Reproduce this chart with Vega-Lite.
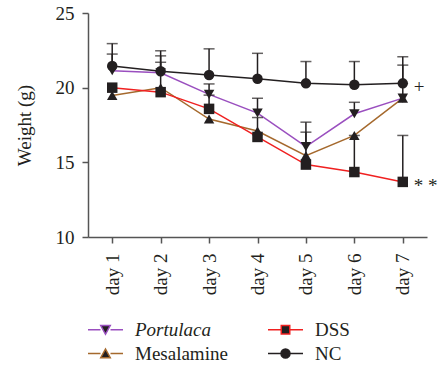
{
  "$schema": "https://vega.github.io/schema/vega-lite/v6.json",
  "width": 339,
  "height": 224,
  "autosize": "none",
  "padding": {"left": 88, "top": 13, "right": 12, "bottom": 135},
  "background": "white",
  "config": {
    "view": {"stroke": null},
    "font": "Liberation Serif",
    "axis": {"labelFont": "Liberation Serif", "titleFont": "Liberation Serif", "labelColor": "#231f20", "titleColor": "#231f20", "domainColor": "#555555", "tickColor": "#555555", "domainWidth": 1.5, "tickWidth": 1.5, "grid": false}
  },
  "datasets": {
    "main": [
      {"day": "day 1", "group": "NC", "weight": 21.45, "upper": 22.95},
      {"day": "day 2", "group": "NC", "weight": 21.1, "upper": 22.47},
      {"day": "day 3", "group": "NC", "weight": 20.85, "upper": 22.6},
      {"day": "day 4", "group": "NC", "weight": 20.6, "upper": 22.3},
      {"day": "day 5", "group": "NC", "weight": 20.29, "upper": 21.75},
      {"day": "day 6", "group": "NC", "weight": 20.2, "upper": 21.75},
      {"day": "day 7", "group": "NC", "weight": 20.29, "upper": 22.07},
      {"day": "day 1", "group": "Portulaca", "weight": 21.13, "upper": 22.25},
      {"day": "day 2", "group": "Portulaca", "weight": 21.0, "upper": 22.13},
      {"day": "day 3", "group": "Portulaca", "weight": 19.55, "upper": 20.25},
      {"day": "day 4", "group": "Portulaca", "weight": 18.3, "upper": 19.29},
      {"day": "day 5", "group": "Portulaca", "weight": 16.05, "upper": 17.69},
      {"day": "day 6", "group": "Portulaca", "weight": 18.25, "upper": 19.02},
      {"day": "day 7", "group": "Portulaca", "weight": 19.3, "upper": 21.51},
      {"day": "day 1", "group": "Mesalamine", "weight": 19.47, "upper": null},
      {"day": "day 2", "group": "Mesalamine", "weight": 20.0, "upper": 21.7},
      {"day": "day 3", "group": "Mesalamine", "weight": 17.9, "upper": null},
      {"day": "day 4", "group": "Mesalamine", "weight": 17.1, "upper": null},
      {"day": "day 5", "group": "Mesalamine", "weight": 15.45, "upper": 17.02},
      {"day": "day 6", "group": "Mesalamine", "weight": 16.8, "upper": null},
      {"day": "day 7", "group": "Mesalamine", "weight": 19.3, "upper": null},
      {"day": "day 1", "group": "DSS", "weight": 20.0, "upper": null},
      {"day": "day 2", "group": "DSS", "weight": 19.7, "upper": null},
      {"day": "day 3", "group": "DSS", "weight": 18.58, "upper": 19.5},
      {"day": "day 4", "group": "DSS", "weight": 16.7, "upper": 18.0},
      {"day": "day 5", "group": "DSS", "weight": 14.85, "upper": null},
      {"day": "day 6", "group": "DSS", "weight": 14.35, "upper": 16.8},
      {"day": "day 7", "group": "DSS", "weight": 13.69, "upper": 16.8}
    ],
    "notes": [
      {"day": "day 7", "weight": 20.29, "label": "+"},
      {"day": "day 7", "weight": 13.69, "label": "* *"}
    ]
  },
  "encoding": {
    "x": {"field": "day", "type": "ordinal", "scale": {"type": "point", "padding": 0.5},
      "axis": {"title": null, "labelAngle": -90, "labelFontSize": 19, "labelPadding": 10, "tickSize": 6, "labelAlign": "right", "labelBaseline": "middle"}},
    "y": {"field": "weight", "type": "quantitative", "scale": {"domain": [10, 25], "nice": false, "zero": false},
      "axis": {"title": "Weight (g)", "titleFontSize": 19, "titleFontWeight": "normal", "titlePadding": 21, "labelFontSize": 19, "values": [10, 15, 20, 25], "tickSize": 6, "labelPadding": 8}}
  },
  "layer": [
    {
      "data": {"name": "main"},
      "mark": {"type": "line", "strokeWidth": 1.5},
      "encoding": {
        "color": {"field": "group", "type": "nominal",
          "scale": {"domain": ["Portulaca", "DSS", "Mesalamine", "NC"], "range": ["#9a4fbf", "#f02020", "#a5692d", "#231f20"]},
          "legend": {
            "orient": "none", "legendX": 8, "legendY": 307, "columns": 2, "direction": "horizontal",
            "title": null, "symbolSize": 100, "labelFontSize": 19, "labelFont": "Liberation Serif", "labelColor": "#231f20",
            "labelOffset": 20, "columnPadding": 37, "rowPadding": 4, "padding": 0,
            "symbolFillColor": "#231f20", "symbolStrokeWidth": 1.5, "symbolOpacity": 1,
            "symbolType": {"expr": "datum.value === 'Portulaca' ? 'M-3.5,0H-1M1,0H3.5M-0.95,-0.85L0.95,-0.85L0,0.9Z' : datum.value === 'Mesalamine' ? 'M-3.5,0H-1M1,0H3.5M-0.95,0.85L0.95,0.85L0,-0.9Z' : datum.value === 'DSS' ? 'M-3.5,0H-0.85M0.85,0H3.5M-0.85,-0.85H0.85V0.85H-0.85Z' : 'M-3.5,0H-0.9M0.9,0H3.5M-0.9,0A0.9,0.9,0,1,1,0.9,0A0.9,0.9,0,1,1,-0.9,0Z'"},
            "labelFontStyle": {"expr": "datum.value === 'Portulaca' ? 'italic' : 'normal'"}
          }}
      }
    },
    {
      "data": {"name": "main"},
      "transform": [{"filter": "isValid(datum.upper)"}],
      "mark": {"type": "rule", "color": "#231f20", "strokeWidth": 1.5},
      "encoding": {"y2": {"field": "upper"}}
    },
    {
      "data": {"name": "main"},
      "transform": [{"filter": "isValid(datum.upper)"}],
      "mark": {"type": "tick", "color": "#231f20", "orient": "horizontal", "size": 11, "thickness": 1.5},
      "encoding": {"y": {"field": "upper", "type": "quantitative"}}
    },
    {
      "data": {"name": "main"},
      "transform": [{"filter": "datum.group === 'Portulaca'"}],
      "mark": {"type": "point", "filled": true, "opacity": 1, "size": 110, "color": "#231f20", "shape": "triangle-down"}
    },
    {
      "data": {"name": "main"},
      "transform": [{"filter": "datum.group === 'Mesalamine'"}],
      "mark": {"type": "point", "filled": true, "opacity": 1, "size": 110, "color": "#231f20", "shape": "triangle-up"}
    },
    {
      "data": {"name": "main"},
      "transform": [{"filter": "datum.group === 'DSS'"}],
      "mark": {"type": "point", "filled": true, "opacity": 1, "size": 110, "color": "#231f20", "shape": "square"}
    },
    {
      "data": {"name": "main"},
      "transform": [{"filter": "datum.group === 'NC'"}],
      "mark": {"type": "point", "filled": true, "opacity": 1, "size": 110, "color": "#231f20", "shape": "circle"}
    },
    {
      "data": {"name": "notes"},
      "mark": {"type": "text", "align": "left", "baseline": "middle", "dx": 11, "dy": 4, "fontSize": 19, "font": "Liberation Serif", "color": "#231f20"},
      "encoding": {"text": {"field": "label"}}
    }
  ]
}
